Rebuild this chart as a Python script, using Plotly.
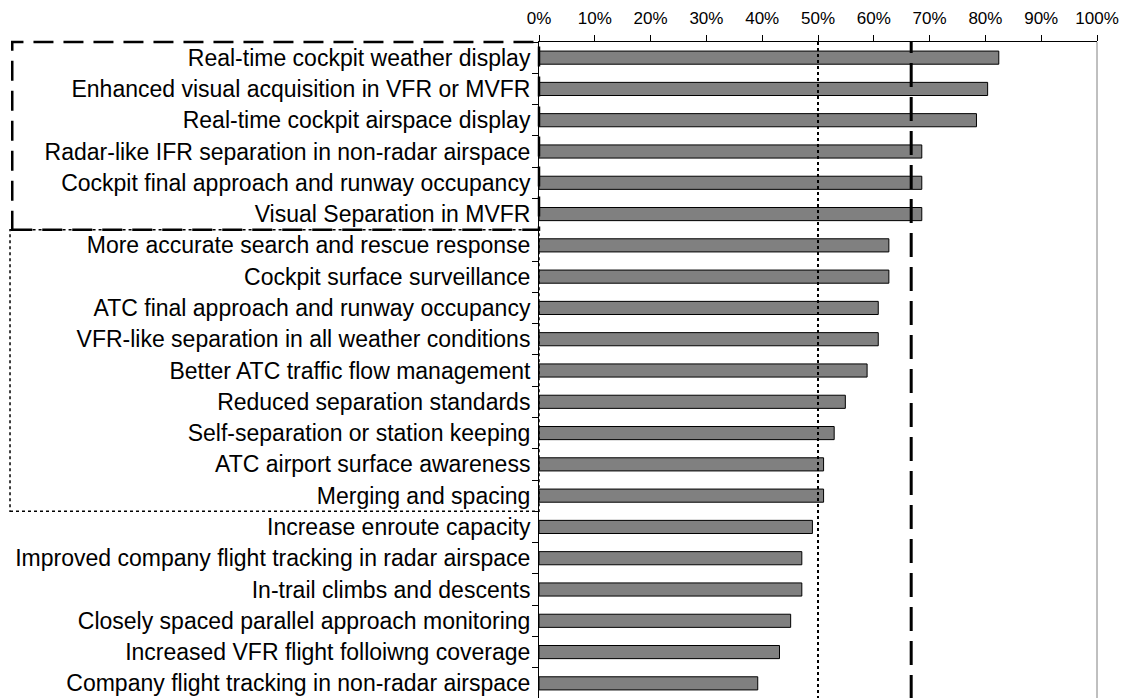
import plotly.graph_objects as go

# survey items, top to bottom
categories = [
    "Real-time cockpit weather display",
    "Enhanced visual acquisition in VFR or MVFR",
    "Real-time cockpit airspace display",
    "Radar-like IFR separation in non-radar airspace",
    "Cockpit final approach and runway occupancy",
    "Visual Separation in MVFR",
    "More accurate search and rescue response",
    "Cockpit surface surveillance",
    "ATC final approach and runway occupancy",
    "VFR-like separation in all weather conditions",
    "Better ATC traffic flow management",
    "Reduced separation standards",
    "Self-separation or station keeping",
    "ATC airport surface awareness",
    "Merging and spacing",
    "Increase enroute capacity",
    "Improved company flight tracking in radar airspace",
    "In-trail climbs and descents",
    "Closely spaced parallel approach monitoring",
    "Increased VFR flight folloiwng coverage",
    "Company flight tracking in non-radar airspace",
]
share = [
    0.824, 0.804, 0.784, 0.686, 0.686, 0.686, 0.627, 0.627, 0.608, 0.608,
    0.588, 0.549, 0.529, 0.510, 0.510, 0.490, 0.471, 0.471, 0.451, 0.431,
    0.392,
]
x_ticks = [i / 10 for i in range(11)]

half_line = 0.5          # dotted reference
two_thirds_line = 0.667  # dashed reference
top_group = 6            # items inside the dashed box
mid_group = 9            # items inside the dotted box

FONT = "Liberation Sans, Arial, sans-serif"

fig = go.Figure(
    go.Bar(
        x=share,
        y=categories,
        orientation="h",
        marker=dict(color="#808080", line=dict(color="black", width=1)),
    )
)

n = len(categories)
y_mid = 1 - top_group / n
y_low = 1 - (top_group + mid_group) / n

# page body has an 8px margin, so the figure is sized to sit inside the window
fig.update_layout(
    width=1119,
    height=691,
    template="plotly_white",
    plot_bgcolor="white",
    paper_bgcolor="white",
    showlegend=False,
    bargap=0.58,
    margin=dict(l=531, r=30, t=34, b=0),
    xaxis=dict(
        side="top",
        range=[0, 1],
        tickvals=x_ticks,
        tickformat=".0%",
        tickfont=dict(family=FONT, size=17, color="black"),
        ticklabelstandoff=4,
        showgrid=False,
        zeroline=False,
        showline=True,
        linecolor="black",
        linewidth=1,
        ticks="outside",
        ticklen=6,
        tickcolor="black",
    ),
    yaxis=dict(
        autorange="reversed",
        tickfont=dict(family=FONT, size=23, color="black"),
        ticklabelstandoff=3,
        showgrid=False,
        zeroline=False,
        showline=True,
        linecolor="black",
        linewidth=1,
        ticks="outside",
        tickson="boundaries",
        ticklen=6,
        tickcolor="black",
    ),
    shapes=[
        # right frame
        dict(type="line", xref="paper", yref="paper", x0=1, x1=1, y0=0, y1=1,
             line=dict(color="#808080", width=1)),
        # reference lines
        dict(type="line", xref="x", yref="paper", x0=half_line, x1=half_line, y0=0, y1=1,
             line=dict(color="black", width=2, dash="dot")),
        dict(type="line", xref="x", yref="paper", x0=two_thirds_line, x1=two_thirds_line,
             y0=0, y1=1, line=dict(color="black", width=3, dash="24px,10px")),
        # dotted box around the middle group
        dict(type="rect", xref="paper", yref="paper", x0=-0.948, x1=0, y0=y_low, y1=y_mid,
             line=dict(color="black", width=1.5, dash="dot"), fillcolor="rgba(0,0,0,0)"),
        # dashed box around the top group
        dict(type="rect", xref="paper", yref="paper", x0=-0.944, x1=0, y0=y_mid, y1=1,
             line=dict(color="black", width=2.5, dash="20px,10px"), fillcolor="rgba(0,0,0,0)"),
    ],
)

fig.write_html("out.html")
